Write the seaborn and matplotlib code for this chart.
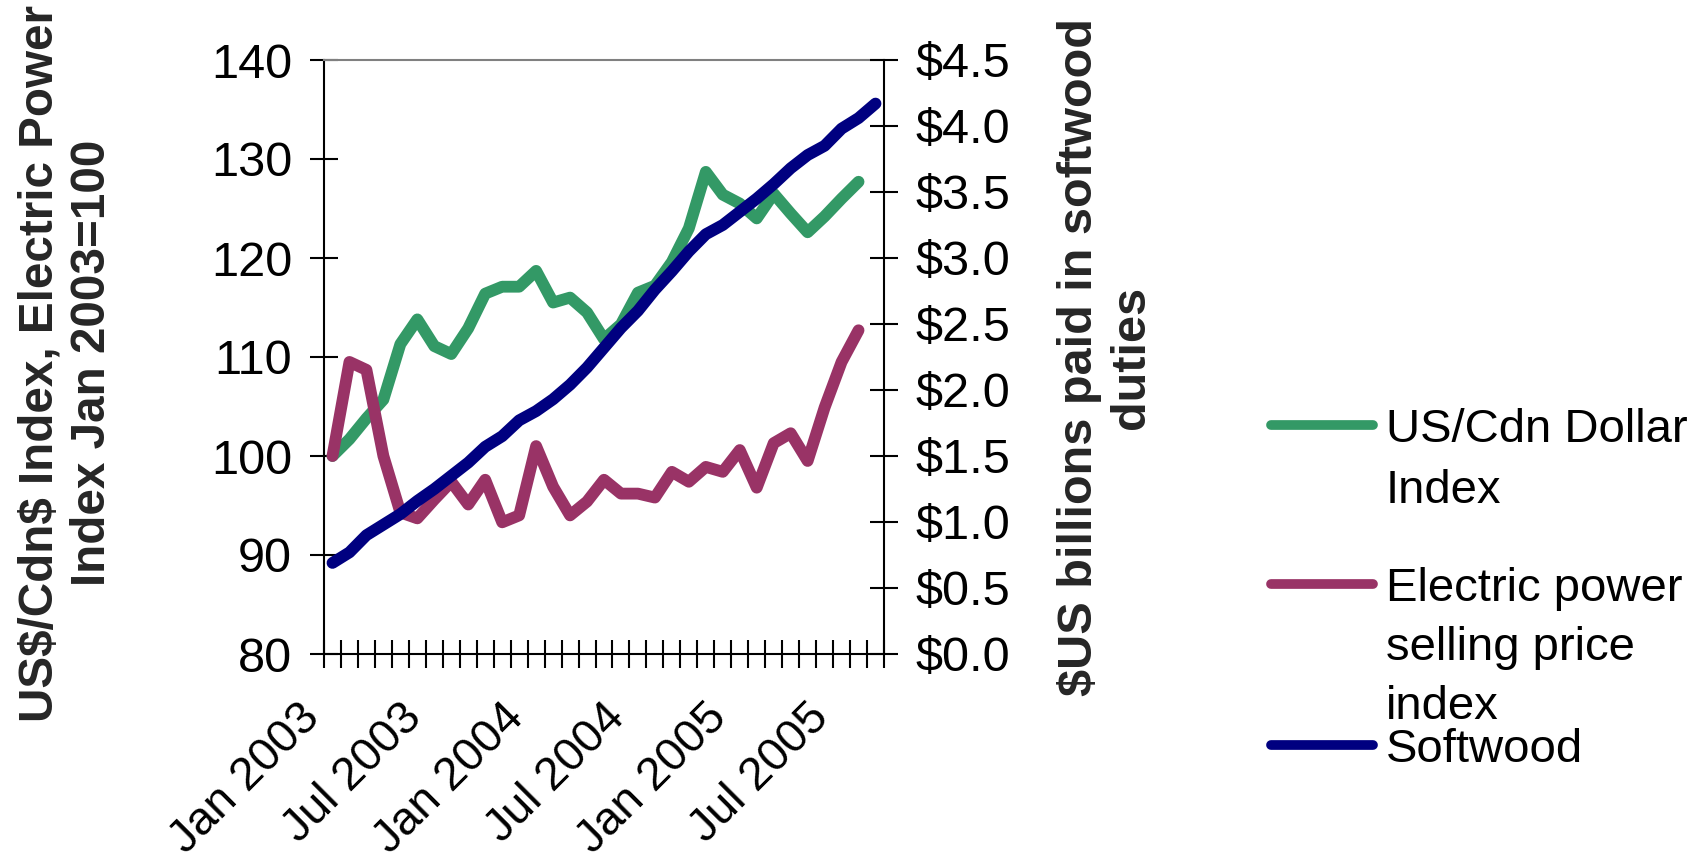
import matplotlib
matplotlib.use("Agg")
import numpy as np
import pandas as pd
import matplotlib.pyplot as plt
import seaborn as sns
from matplotlib.lines import Line2D
from matplotlib.ticker import FuncFormatter
from matplotlib.transforms import ScaledTranslation

# Monthly series, Jan 2003 onward
months = pd.date_range("2003-01-01", periods=33, freq="MS")
month_labels = [d.strftime("%b %Y") for d in months]
label_every = 6

# US/Cdn dollar index (Jan 2003 = 100), Jan 2003 - Aug 2005
dollar_index = [100.0, 101.7, 103.8, 105.7, 111.3, 113.8, 111.1, 110.3, 112.9,
                116.4, 117.1, 117.1, 118.7, 115.5, 116.0, 114.5, 111.8, 113.3,
                116.5, 117.2, 119.6, 123.0, 128.7, 126.4, 125.5, 124.0, 126.5,
                124.5, 122.6, 124.2, 126.0, 127.7]

# Electric power selling price index (Jan 2003 = 100), Jan 2003 - Aug 2005
power_index = [100.0, 109.5, 108.7, 100.0, 94.3, 93.7, 95.6, 97.4, 95.1,
               97.6, 93.3, 94.0, 101.0, 96.9, 94.0, 95.4, 97.6, 96.2,
               96.2, 95.8, 98.4, 97.4, 98.9, 98.4, 100.6, 96.8, 101.3,
               102.3, 99.5, 104.9, 109.5, 112.7]

# Cumulative softwood duties paid ($US billions), Jan 2003 - Sep 2005
softwood_duties = [0.69, 0.77, 0.90, 0.98, 1.06, 1.16, 1.25, 1.35, 1.45,
                   1.57, 1.65, 1.77, 1.84, 1.93, 2.04, 2.17, 2.32, 2.47,
                   2.60, 2.76, 2.90, 3.05, 3.18, 3.25, 3.35, 3.45, 3.56,
                   3.68, 3.78, 3.85, 3.98, 4.06, 4.17]

series_names = ["US/Cdn Dollar\nIndex", "Electric power\nselling price\nindex", "Softwood"]
GREEN, PURPLE, NAVY = "#339966", "#993366", "#000080"

# dollar signs escaped so they stay literal instead of starting mathtext
left_title = "US\\$/Cdn\\$ Index, Electric Power\nIndex Jan 2003=100"
right_title = "\\$US billions paid in softwood\nduties"

sns.set_theme(style="white")
plt.rcParams["font.family"] = ["Liberation Sans", "DejaVu Sans"]

W, H = 1695, 865
fig = plt.figure(figsize=(W / 100, H / 100), dpi=100)
ax = fig.add_axes([324 / W, (H - 654) / H, 560 / W, 594 / H])
ax2 = ax.twinx()

line_kw = dict(linewidth=8.5, solid_capstyle="round", solid_joinstyle="round")
pos = np.arange(len(months))
sns.lineplot(x=pos[:len(dollar_index)], y=dollar_index, ax=ax, color=GREEN, **line_kw)
sns.lineplot(x=pos[:len(power_index)], y=power_index, ax=ax, color=PURPLE, **line_kw)
sns.lineplot(x=pos[:len(softwood_duties)], y=softwood_duties, ax=ax2, color=NAVY, **line_kw)

ax.set_xlim(-0.5, len(months) - 0.5)
ax.set_ylim(80, 140)
ax2.set_ylim(0, 4.5)
ax.set_yticks(np.arange(80, 141, 10))
ax2.set_yticks(np.arange(0, 4.51, 0.5))
ax2.yaxis.set_major_formatter(FuncFormatter(lambda v, _: f"\\${v:.1f}"))
for a in (ax, ax2):
    a.set_xlabel("")
    a.set_ylabel("")
    a.grid(False)

TICK_FS = 35

# category boundaries carry the tick marks; month labels sit on category centres
ax.set_xticks(np.arange(-0.5, len(months), 1))
ax.set_xticks(pos[::label_every], minor=True)
ax.set_xticklabels(month_labels[::label_every], minor=True)
ax.tick_params(axis="x", which="major", direction="inout", length=20, width=1.5,
               color="black", labelbottom=False, bottom=True)
ax.tick_params(axis="x", which="minor", length=0, pad=30, labelsize=33.5,
               labelcolor="black", bottom=True)
shift = ScaledTranslation(-4 / 100, 0, fig.dpi_scale_trans)
for lbl in ax.get_xticklabels(minor=True):
    lbl.set_rotation(45)
    lbl.set_ha("right")
    lbl.set_va("top")
    lbl.set_transform(lbl.get_transform() + shift)

ax.tick_params(axis="y", which="major", direction="inout", length=20, width=1.5,
               color="black", labelsize=TICK_FS, pad=13, left=True, labelcolor="black")
ax2.tick_params(axis="y", which="major", direction="inout", length=20, width=1.5,
                color="black", labelsize=TICK_FS, pad=13, right=True, labelcolor="black")

for name, sp in ax.spines.items():
    sp.set_linewidth(1.5)
    sp.set_color("#808080" if name == "top" else "black")
ax.spines["right"].set_visible(False)
for name, sp in ax2.spines.items():
    sp.set_visible(name == "right")
    sp.set_linewidth(1.5)
    sp.set_color("black")

fig.text(66 / W, 1 - 363 / H, left_title, rotation=90, ha="center", va="center",
         multialignment="center", fontsize=34.3, fontweight="bold", linespacing=1.22)
fig.text(1105 / W, 1 - 357 / H, right_title, rotation=90, ha="center", va="center",
         multialignment="center", fontsize=35, fontweight="bold", linespacing=1.2)

# legend: one block per series, handle level with the first text line
def legend_block(color, label, top_px, spacing):
    lines = label.split("\n")
    handles = [Line2D([], [], color=color, linewidth=7, solid_capstyle="round")]
    handles += [Line2D([], [], color="none")] * (len(lines) - 1)
    leg = fig.legend(handles, lines, loc="upper left",
                     bbox_to_anchor=(1271 / W, 1 - top_px / H), frameon=False,
                     fontsize=34, handlelength=2.15, handletextpad=0.28,
                     borderpad=0, borderaxespad=0, labelspacing=spacing)
    for t in leg.get_texts():
        t.set_color("black")

legend_block(GREEN, series_names[0], 408, 0.36)
legend_block(PURPLE, series_names[1], 567, 0.32)
legend_block(NAVY, series_names[2], 728, 0.36)

fig.savefig("out.png", dpi=100, facecolor="white")
